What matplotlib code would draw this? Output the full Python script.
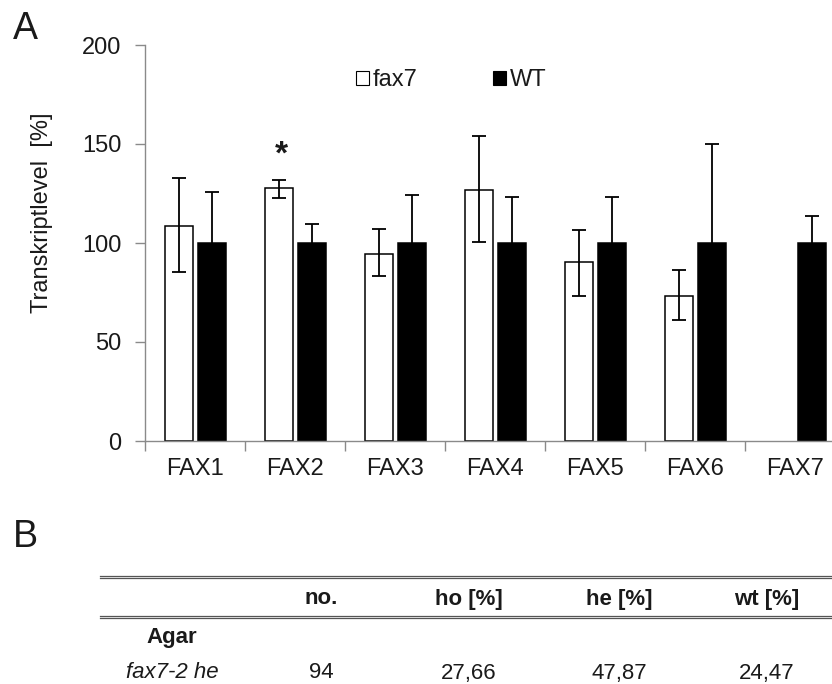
import numpy as np
import matplotlib
matplotlib.use('Agg')
import matplotlib.pyplot as plt
from matplotlib.lines import Line2D

plt.rcParams['font.family'] = ['Liberation Sans', 'DejaVu Sans']

# Daten Panel A
genes = ['FAX1', 'FAX2', 'FAX3', 'FAX4', 'FAX5', 'FAX6', 'FAX7']
fax7_mean = [108.5, 127.8, 94.4, 126.8, 90.4, 73.2, np.nan]
fax7_err_lo = [23.0, 5.0, 11.0, 26.5, 17.0, 12.0, np.nan]
fax7_err_hi = [24.5, 4.0, 12.5, 27.0, 16.0, 13.0, np.nan]
wt_mean = [100, 100, 100, 100, 100, 100, 100]
wt_err = [26.0, 9.5, 24.0, 23.0, 23.0, 50.0, 13.5]
signif = ['', '*', '', '', '', '', '']

# Daten Panel B
col_labels = ['no.', 'ho [%]', 'he [%]', 'wt [%]']
group_label = 'Agar'
row_label = 'fax7-2 he'
row_values = ['94', '27,66', '47,87', '24,47']

txt = '#1a1a1a'
grey = '#8a8a8a'

fig = plt.figure(figsize=(8.32, 6.84), dpi=100)
W, H = 832, 684
ax = fig.add_axes([145 / W, 1 - 441 / H, 700 / W, 396 / H])

x = np.arange(len(genes))
bw = 0.28
off = 0.165
ax.bar(x - off, fax7_mean, bw, color='white', edgecolor='black', linewidth=1.1,
       label='fax7', zorder=2)
ax.bar(x + off, wt_mean, bw, color='black', edgecolor='black', linewidth=1.1,
       label='WT', zorder=2)
ek = dict(fmt='none', ecolor='black', elinewidth=1.3, capsize=5, capthick=1.3, zorder=3)
ax.errorbar(x - off, fax7_mean, yerr=[fax7_err_lo, fax7_err_hi], **ek)
ax.errorbar(x + off, wt_mean, yerr=wt_err, **ek)

for i, s in enumerate(signif):
    if s:
        ax.text(x[i] - off + 0.03, fax7_mean[i] + fax7_err_hi[i] + 5, s, ha='center',
                va='bottom', fontsize=24, fontweight='bold', color=txt)

ax.set_xlim(-0.5, len(genes) - 0.5)
ax.set_ylim(0, 200)
ax.set_yticks([0, 50, 100, 150, 200])
ax.set_xticks(np.arange(len(genes) + 1) - 0.5)
ax.set_xticklabels([])
ax.set_xticks(x, minor=True)
ax.set_xticklabels(genes, minor=True)
ax.tick_params(axis='x', which='major', direction='out', length=7, color=grey, width=1)
ax.tick_params(axis='x', which='minor', length=0, pad=12, labelsize=17, labelcolor=txt)
ax.tick_params(axis='y', direction='out', length=7, color=grey, width=1, pad=10,
               labelsize=17, labelcolor=txt)
for side in ['top', 'right']:
    ax.spines[side].set_visible(False)
for side in ['left', 'bottom']:
    ax.spines[side].set_color(grey)
    ax.spines[side].set_linewidth(1)

fig.text(42 / W, 1 - 213 / H, 'Transkriptlevel  [%]', rotation=90, ha='center',
         va='center', fontsize=17, color=txt)

leg = ax.legend(loc='center', bbox_to_anchor=(451 / W, 1 - 80 / H),
                bbox_transform=fig.transFigure, ncol=2, frameon=False, fontsize=17,
                handlelength=0.55, handleheight=0.55, handletextpad=0.15,
                columnspacing=3.2, borderpad=0)
for t in leg.get_texts():
    t.set_color(txt)
for p in leg.legend_handles:
    p.set_linewidth(0.8)

fig.text(13 / W, 1 - 29 / H, 'A', fontsize=27, ha='left', va='center', color=txt)
fig.text(13 / W, 1 - 537 / H, 'B', fontsize=27, ha='left', va='center', color=txt)

# Tabelle Panel B
for yy in [577, 617]:
    for d in [-1.2, 1.2]:
        fig.add_artist(Line2D([100 / W, 1.0], [1 - (yy + d) / H] * 2, color='#555555',
                              linewidth=0.9, transform=fig.transFigure))
col_x = [321, 469, 619, 767]
for cx, lab in zip(col_x, col_labels):
    fig.text(cx / W, 1 - 599 / H, lab, ha='center', va='center', fontsize=16,
             fontweight='bold', color=txt)
fig.text(172 / W, 1 - 637 / H, group_label, ha='center', va='center', fontsize=16,
         fontweight='bold', color=txt)
fig.text(172 / W, 1 - 673 / H, row_label, ha='center', va='center', fontsize=16,
         style='italic', color=txt)
for cx, v in zip(col_x, row_values):
    fig.text(cx / W, 1 - 673 / H, v, ha='center', va='center', fontsize=16, color=txt)

fig.savefig('out.png', dpi=100)
